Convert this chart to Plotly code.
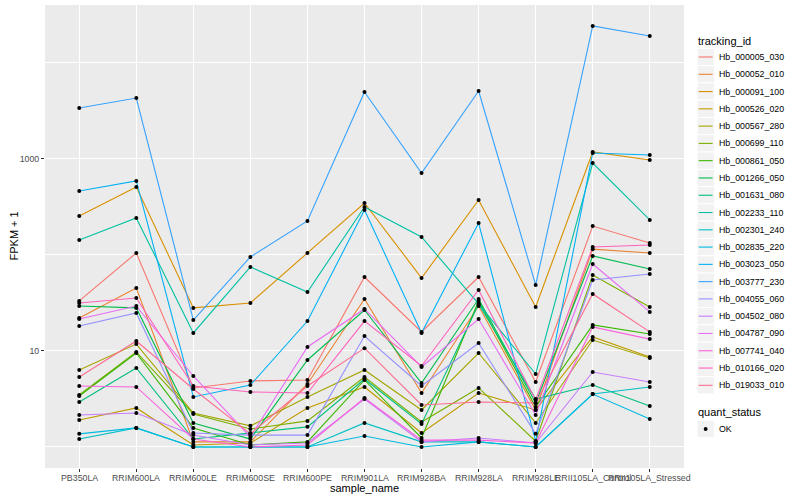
import plotly.graph_objects as go

samples = ["PB350LA", "RRIM600LA", "RRIM600LE", "RRIM600SE", "RRIM600PE", "RRIM901LA",
           "RRIM928BA", "RRIM928LA", "RRIM928LE", "RRII105LA_Control", "RRII105LA_Stressed"]

tracking_ids = ["Hb_000005_030", "Hb_000052_010", "Hb_000091_100", "Hb_000526_020",
                "Hb_000567_280", "Hb_000699_110", "Hb_000861_050", "Hb_001266_050",
                "Hb_001631_080", "Hb_002233_110", "Hb_002301_240", "Hb_002835_220",
                "Hb_003023_050", "Hb_003777_230", "Hb_004055_060", "Hb_004502_080",
                "Hb_004787_090", "Hb_007741_040", "Hb_010166_020", "Hb_019033_010"]

colors = ["#F8766D", "#EA8331", "#D89000", "#C09B00", "#A3A500", "#7CAE00", "#39B600",
          "#00BB4E", "#00BF7D", "#00C1A3", "#00BFC4", "#00BAE0", "#00B0F6", "#35A2FF",
          "#9590FF", "#C77CFF", "#E76BF3", "#FA62DB", "#FF62BC", "#FF6C91"]

# FPKM + 1 per sample (same order as samples)
hb_000005_030 = [33.2, 105, 4.12, 4.87, 4.99, 59.0, 15.8, 59.0, 4.75, 200, 133]
hb_000052_010 = [22.1, 45.3, 1.13, 1.13, 4.53, 34.8, 3.65, 29.4, 2.43, 115, 105]
hb_000091_100 = [255, 511, 28.1, 31.6, 105, 348, 57.6, 374, 28.7, 1183, 977]
hb_000526_020 = [1.91, 2.55, 1.05, 1.10, 2.55, 4.22, 1.40, 3.65, 2.43, 14.0, 8.66]
hb_000567_280 = [6.34, 11.8, 2.26, 1.66, 3.32, 6.34, 2.43, 9.53, 1.78, 13.0, 8.45]
hb_000699_110 = [3.48, 9.77, 2.21, 1.54, 1.87, 5.36, 1.82, 4.12, 1.15, 61.9, 28.7]
hb_000861_050 = [3.40, 9.53, 1.58, 1.05, 1.13, 4.99, 1.24, 33.2, 2.61, 18.7, 15.0]
hb_001266_050 = [29.4, 28.1, 1.78, 1.21, 8.06, 26.7, 4.64, 34.8, 2.87, 97.7, 71.5]
hb_001631_080 = [2.94, 6.65, 1.21, 1.40, 1.62, 5.11, 1.74, 30.9, 3.16, 4.42, 2.67]
hb_002233_110 = [143, 243, 15.4, 75.0, 41.2, 316, 154, 30.9, 5.76, 908, 232]
hb_002301_240 = [1.21, 1.58, 1.0, 1.0, 1.0, 1.78, 1.13, 1.13, 1.0, 3.56, 4.22]
hb_002835_220 = [1.37, 1.58, 1.0, 1.0, 1.0, 1.30, 1.0, 1.13, 1.0, 3.56, 1.96]
hb_003023_050 = [464, 590, 3.32, 4.42, 20.5, 294, 15.4, 215, 1.15, 1155, 1100]
hb_003777_230 = [3400, 4315, 21.0, 95.3, 226, 4990, 714, 5105, 48.7, 24300, 19100]
hb_004055_060 = [18.2, 24.9, 1.40, 1.33, 1.33, 14.3, 4.32, 12.1, 1.37, 54.9, 63.4]
hb_004502_080 = [2.15, 2.26, 1.33, 1.05, 1.10, 3.16, 1.13, 1.24, 1.10, 6.04, 4.75]
hb_004787_090 = [21.5, 29.4, 5.49, 1.27, 11.0, 27.4, 6.81, 21.5, 2.15, 80.5, 25.5]
hb_007741_040 = [4.32, 4.22, 1.21, 1.0, 1.05, 3.24, 1.18, 1.18, 1.10, 17.8, 13.3]
hb_010166_020 = [31.6, 35.6, 4.32, 3.74, 3.65, 20.5, 6.98, 43.2, 3.09, 121, 127]
hb_019033_010 = [5.36, 12.7, 4.02, 1.37, 4.32, 10.7, 2.74, 2.94, 2.87, 39.3, 15.8]

series = [hb_000005_030, hb_000052_010, hb_000091_100, hb_000526_020, hb_000567_280,
          hb_000699_110, hb_000861_050, hb_001266_050, hb_001631_080, hb_002233_110,
          hb_002301_240, hb_002835_220, hb_003023_050, hb_003777_230, hb_004055_060,
          hb_004502_080, hb_004787_090, hb_007741_040, hb_010166_020, hb_019033_010]

quant_status = ["OK"]

W, H = 800, 500
PL, PR, PT, PB = 45, 684, 5, 468


def fx(px):
    return (px - PL) / (PR - PL)


def fy(py):
    return (PB - py) / (PB - PT)


fig = go.Figure()
for name, col, vals in zip(tracking_ids, colors, series):
    fig.add_trace(go.Scatter(x=samples, y=vals, mode="lines", name=name,
                             line=dict(color=col, width=1.1), showlegend=False,
                             hoverinfo="skip"))

all_x, all_y = [], []
for vals in series:
    all_x += samples
    all_y += vals
fig.add_trace(go.Scatter(x=all_x, y=all_y, mode="markers", name=quant_status[0],
                         marker=dict(color="black", size=4), showlegend=False))

FONT = "Liberation Sans, Arial, sans-serif"
shapes = []
annotations = []

# x tick labels (drawn as text so they sit exactly under the ticks)
for s in samples:
    annotations.append(dict(x=s, y=fy(477.5), xref="x", yref="paper", text=s,
                            showarrow=False, xanchor="center", yanchor="middle",
                            font=dict(size=8.8, color="#4D4D4D", family=FONT)))

# legend: tracking_id
annotations.append(dict(x=fx(696), y=fy(41), xref="paper", yref="paper", text="tracking_id",
                        showarrow=False, xanchor="left", yanchor="middle",
                        font=dict(size=11, color="black", family=FONT)))
step = 17.28
for i, (name, col) in enumerate(zip(tracking_ids, colors)):
    cy = 57 + i * step
    shapes.append(dict(type="rect", xref="paper", yref="paper",
                       x0=fx(697), x1=fx(714.3), y0=fy(cy - step / 2), y1=fy(cy + step / 2),
                       fillcolor="#F2F2F2", line=dict(color="white", width=1), layer="above"))
    shapes.append(dict(type="line", xref="paper", yref="paper",
                       x0=fx(698.7), x1=fx(712.6), y0=fy(cy), y1=fy(cy),
                       line=dict(color=col, width=1.1), layer="above"))
    annotations.append(dict(x=fx(717), y=fy(cy), xref="paper", yref="paper", text=name,
                            showarrow=False, xanchor="left", yanchor="middle",
                            font=dict(size=8.8, color="black", family=FONT)))

# legend: quant_status
annotations.append(dict(x=fx(696), y=fy(412), xref="paper", yref="paper", text="quant_status",
                        showarrow=False, xanchor="left", yanchor="middle",
                        font=dict(size=11, color="black", family=FONT)))
cy = 429
shapes.append(dict(type="rect", xref="paper", yref="paper",
                   x0=fx(697), x1=fx(714.3), y0=fy(cy - step / 2), y1=fy(cy + step / 2),
                   fillcolor="#F2F2F2", line=dict(color="white", width=1), layer="above"))
shapes.append(dict(type="circle", xref="paper", yref="paper",
                   x0=fx(703.7), x1=fx(707.6), y0=fy(cy - 2), y1=fy(cy + 2),
                   fillcolor="black", line=dict(color="black", width=0), layer="above"))
annotations.append(dict(x=fx(717), y=fy(cy), xref="paper", yref="paper", text=quant_status[0],
                        showarrow=False, xanchor="left", yanchor="middle",
                        font=dict(size=8.8, color="black", family=FONT)))

# axis titles
annotations.append(dict(x=fx(364.5), y=fy(488), xref="paper", yref="paper", text="sample_name",
                        showarrow=False, xanchor="center", yanchor="middle",
                        font=dict(size=11, color="black", family=FONT)))
annotations.append(dict(x=fx(13), y=fy(236.5), xref="paper", yref="paper", text="FPKM + 1",
                        showarrow=False, xanchor="center", yanchor="middle", textangle=-90,
                        font=dict(size=11, color="black", family=FONT)))

fig.update_layout(
    width=W, height=H,
    margin=dict(l=PL, r=W - PR, t=PT, b=H - PB, pad=0),
    paper_bgcolor="white", plot_bgcolor="#EBEBEB",
    font=dict(family=FONT, size=9, color="#4D4D4D"),
    showlegend=False,
    shapes=shapes, annotations=annotations,
    xaxis=dict(type="category", categoryorder="array", categoryarray=samples,
               range=[-0.6, 10.6], showgrid=True, gridcolor="white", gridwidth=1.1,
               zeroline=False, showline=False, ticks="outside", ticklen=3, tickwidth=1,
               tickcolor="#333333", showticklabels=False),
    yaxis=dict(type="log", range=[-0.219, 4.604], tickvals=[10, 1000], ticktext=["10", "1000"],
               showgrid=True, gridcolor="white", gridwidth=1.1, zeroline=False, showline=False,
               ticks="outside", ticklen=3, tickwidth=1, tickcolor="#333333",
               tickfont=dict(size=8.8, color="#4D4D4D", family=FONT),
               minor=dict(tickvals=[1, 100, 10000], showgrid=True, gridcolor="white",
                          gridwidth=0.55, ticks="")),
)

# the page's default body margin would shift the 800x500 figure; remove it
fig.write_html("out.html", config={"displayModeBar": False},
               post_script="document.body.style.margin='0px';document.body.style.padding='0px';")
